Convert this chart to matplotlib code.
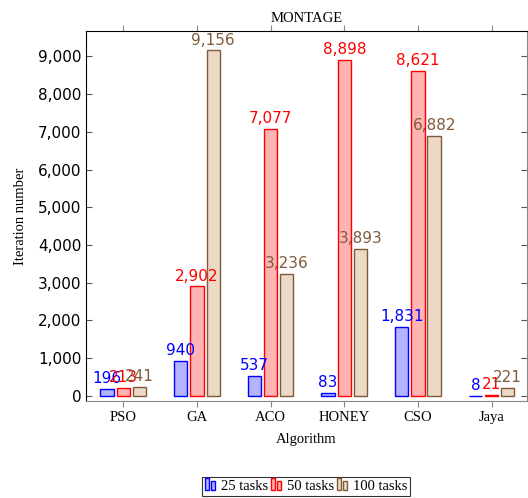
import numpy as np
import matplotlib.pyplot as plt
from matplotlib.patches import Rectangle
from matplotlib.legend_handler import HandlerBase
from matplotlib.ticker import FuncFormatter

# data
algorithms = ["PSO", "GA", "ACO", "HONEY", "CSO", "Jaya"]
tasks_25 = [196, 940, 537, 83, 1831, 8]
tasks_50 = [213, 2902, 7077, 8898, 8621, 21]
tasks_100 = [241, 9156, 3236, 3893, 6882, 221]
series_names = ["25 tasks", "50 tasks", "100 tasks"]

edge_colors = ["#0000ff", "#ff0000", "#7f5b3b"]
fill_colors = ["#b3b3ff", "#ffb3b3", "#ecd9c6"]

serif = "Liberation Serif"


class TwoBarHandler(HandlerBase):
    # pgfplots style legend: two little bars
    def create_artists(self, legend, orig_handle, xdescent, ydescent,
                       width, height, fontsize, trans):
        w = width * 0.28
        fc = orig_handle.get_facecolor()
        ec = orig_handle.get_edgecolor()
        r1 = Rectangle((-xdescent, -ydescent), w, height * 1.1, facecolor=fc,
                       edgecolor=ec, lw=1, transform=trans)
        r2 = Rectangle((-xdescent + w * 1.6, -ydescent), w, height * 0.8,
                       facecolor=fc, edgecolor=ec, lw=1, transform=trans)
        return [r1, r2]


fig = plt.figure(figsize=(5.28, 4.98), dpi=100)
ax = fig.add_axes([0.163, 0.195, 0.835, 0.742])

x = np.arange(len(algorithms))
width = 0.18
offset = 0.22
handles = []
for i, vals in enumerate([tasks_25, tasks_50, tasks_100]):
    bars = ax.bar(x + (i - 1) * offset, vals, width, color=fill_colors[i],
                  edgecolor=edge_colors[i], linewidth=1, label=series_names[i])
    handles.append(bars[0])
    for xi, v in zip(x + (i - 1) * offset, vals):
        ax.annotate(f"{v:,}", (xi, v), xytext=(0, 2), textcoords="offset points",
                    ha="center", va="bottom", fontsize=11, color=edge_colors[i])

ax.set_xlim(-0.505, 5.48)
ax.set_ylim(-130, 9660)
ax.set_xticks(x)
ax.set_xticklabels(algorithms, fontfamily=serif, fontsize=10.5)
ax.set_yticks(np.arange(0, 9001, 1000))
ax.yaxis.set_major_formatter(FuncFormatter(lambda v, p: f"{int(v):,}"))
ax.tick_params(axis="y", labelsize=11, direction="in", left=True, right=True,
               length=4, color="#555555")
ax.tick_params(axis="x", direction="out", top=True, bottom=True, length=4,
               color="#888888")
for s in ["left", "top"]:
    ax.spines[s].set_color("black")
for s in ["right", "bottom"]:
    ax.spines[s].set_color("#888888")

ax.set_title("MONTAGE", fontfamily=serif, fontsize=10.5, pad=7)
ax.set_xlabel("Algorithm", fontfamily=serif, fontsize=10.5, labelpad=6)
ax.set_ylabel("Iteration number", fontfamily=serif, fontsize=10.5, labelpad=8)

leg = fig.legend(handles, series_names, loc="center", bbox_to_anchor=(0.58, 0.024),
                 ncol=3, handler_map={h: TwoBarHandler() for h in handles},
                 prop={"family": serif, "size": 10.5}, frameon=True, fancybox=False,
                 edgecolor="black", handlelength=0.9, handletextpad=0.2,
                 columnspacing=0.2, borderpad=0.2, borderaxespad=0)
leg.get_frame().set_linewidth(0.8)

plt.savefig("out.png", dpi=100)
